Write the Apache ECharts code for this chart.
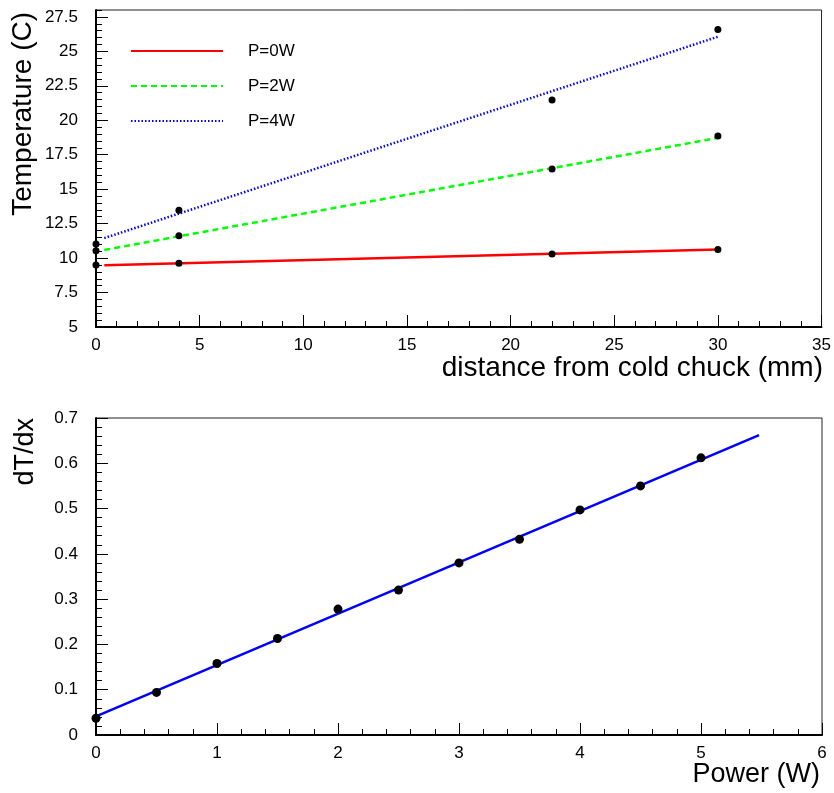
<!DOCTYPE html>
<html><head><meta charset="utf-8">
<script src="https://cdn.jsdelivr.net/npm/echarts@6/dist/echarts.min.js"></script>
<style>html,body{margin:0;padding:0;background:#fff}#c{width:834px;height:793px}</style>
</head><body><div id="c"></div>
<script>
// ---- Top chart data: temperature vs distance ----
const distances = [0, 4, 22, 30];
const temp0W = [9.5, 9.63, 10.3, 10.63];
const temp2W = [10.54, 11.62, 16.46, 18.86];
const temp4W = [11.02, 13.47, 21.47, 26.58];
// fitted straight lines (end points)
const fitRangeDist = [0.4, 30];
const fit0W = [9.48, 10.63];
const fit2W = [10.59, 18.72];
const fit4W = [11.45, 26.06];
const seriesNames = ['P=0W', 'P=2W', 'P=4W'];

// ---- Bottom chart data: dT/dx vs power ----
const powers = [0, 0.5, 1, 1.5, 2, 2.5, 3, 3.5, 4, 4.5, 5];
const dTdx = [0.037, 0.094, 0.158, 0.213, 0.278, 0.320, 0.380, 0.432, 0.497, 0.550, 0.612];
const fitRangePower = [0, 5.48];
const fitDTdx = [0.041, 0.662];

const FONT = '"Liberation Sans", Arial, Helvetica, sans-serif';
const pair = (xs, ys) => xs.map((x, i) => [x, ys[i]]);

const chart = echarts.init(document.getElementById('c'), null, {renderer: 'canvas'});

const axisLine = {show: true, lineStyle: {color: '#000', width: 2}};
const labelStyle = {color: '#000', fontSize: 17, fontFamily: FONT};
const majorTick = {show: true, inside: true, length: 12, lineStyle: {color: '#000', width: 1}};
const minorTick = {show: true, splitNumber: 5, length: 6, lineStyle: {color: '#000', width: 1}};
const dot = {color: '#000', opacity: 1};

const L = 96, W = 726, H = 317;
const grids = [
  {left: L, top: 10, width: W, height: H, show: true, borderColor: '#222', borderWidth: 1, backgroundColor: 'transparent'},
  {left: L, top: 418, width: W, height: H, show: true, borderColor: '#222', borderWidth: 1, backgroundColor: 'transparent'},
  {left: L, top: 10, width: W, height: H, show: false}
];

const option = {
  animation: false,
  backgroundColor: '#fff',
  grid: grids,
  xAxis: [
    {gridIndex: 0, type: 'value', min: 0, max: 35, interval: 5,
     axisLine, axisTick: majorTick, minorTick, splitLine: {show: false},
     axisLabel: Object.assign({margin: 10}, labelStyle)},
    {gridIndex: 1, type: 'value', min: 0, max: 6, interval: 1,
     axisLine, axisTick: majorTick, minorTick, splitLine: {show: false},
     axisLabel: Object.assign({margin: 10}, labelStyle)},
    {gridIndex: 2, type: 'value', min: 0, max: 35, show: false}
  ],
  yAxis: [
    {gridIndex: 0, type: 'value', min: 5, max: 28, interval: 2.5,
     axisLine, axisTick: majorTick, splitLine: {show: false},
     axisLabel: Object.assign({margin: 18, showMaxLabel: false}, labelStyle)},
    {gridIndex: 1, type: 'value', min: 0, max: 0.7, interval: 0.1,
     axisLine, axisTick: majorTick, minorTick, splitLine: {show: false},
     axisLabel: Object.assign({margin: 18}, labelStyle)},
    {gridIndex: 2, type: 'value', min: 5, max: 28, interval: 0.5,
     axisLine: {show: false}, axisLabel: {show: false}, splitLine: {show: false},
     axisTick: {show: true, inside: true, length: 6, lineStyle: {color: '#000', width: 1}}}
  ],
  legend: {
    data: seriesNames, orient: 'vertical', left: 130, top: 41, padding: 0,
    itemWidth: 92, itemHeight: 20, itemGap: 15, selectedMode: false,
    itemStyle: {opacity: 0, color: 'transparent', borderWidth: 0},
    textStyle: {fontSize: 17, fontFamily: FONT, color: '#000', padding: [0, 0, 0, 20], lineHeight: 20}
  },
  graphic: [
    {type: 'text', x: 23, y: 12, rotation: Math.PI / 2,
     style: {text: 'Temperature (C)', fontSize: 28, fontFamily: FONT, fill: '#000', align: 'right', verticalAlign: 'middle'}},
    {type: 'text', x: 26, y: 418, rotation: Math.PI / 2,
     style: {text: 'dT/dx', fontSize: 27, fontFamily: FONT, fill: '#000', align: 'right', verticalAlign: 'middle'}},
    {type: 'text', x: 823, y: 368,
     style: {text: 'distance from cold chuck (mm)', fontSize: 28, fontFamily: FONT, fill: '#000', align: 'right', verticalAlign: 'middle'}},
    {type: 'text', x: 820, y: 775,
     style: {text: 'Power (W)', fontSize: 27, fontFamily: FONT, fill: '#000', align: 'right', verticalAlign: 'middle'}}
  ],
  series: [
    {name: seriesNames[0], type: 'line', xAxisIndex: 0, yAxisIndex: 0, data: pair(fitRangeDist, fit0W),
     symbol: 'none', z: 2, itemStyle: {color: '#ff0000'}, lineStyle: {color: '#ff0000', width: 2.5, type: 'solid'}},
    {name: seriesNames[1], type: 'line', xAxisIndex: 0, yAxisIndex: 0, data: pair(fitRangeDist, fit2W),
     symbol: 'none', z: 2, itemStyle: {color: '#00ff00'}, lineStyle: {color: '#00ff00', width: 2.5, type: [6, 4]}},
    {name: seriesNames[2], type: 'line', xAxisIndex: 0, yAxisIndex: 0, data: pair(fitRangeDist, fit4W),
     symbol: 'none', z: 2, itemStyle: {color: '#0000ff'}, lineStyle: {color: '#0000ff', width: 2.5, type: [1.5, 2]}},
    {name: 'pts0W', type: 'scatter', xAxisIndex: 0, yAxisIndex: 0, data: pair(distances, temp0W),
     symbol: 'circle', symbolSize: 7, z: 3, itemStyle: dot},
    {name: 'pts2W', type: 'scatter', xAxisIndex: 0, yAxisIndex: 0, data: pair(distances, temp2W),
     symbol: 'circle', symbolSize: 7, z: 3, itemStyle: dot},
    {name: 'pts4W', type: 'scatter', xAxisIndex: 0, yAxisIndex: 0, data: pair(distances, temp4W),
     symbol: 'circle', symbolSize: 7, z: 3, itemStyle: dot},
    {name: 'fit', type: 'line', xAxisIndex: 1, yAxisIndex: 1, data: pair(fitRangePower, fitDTdx),
     symbol: 'none', z: 2, lineStyle: {color: '#0000ff', width: 2.5}},
    {name: 'dTdx', type: 'scatter', xAxisIndex: 1, yAxisIndex: 1, data: pair(powers, dTdx),
     symbol: 'circle', symbolSize: 9, z: 3, itemStyle: dot}
  ]
};
chart.setOption(option);
</script>
</body></html>
